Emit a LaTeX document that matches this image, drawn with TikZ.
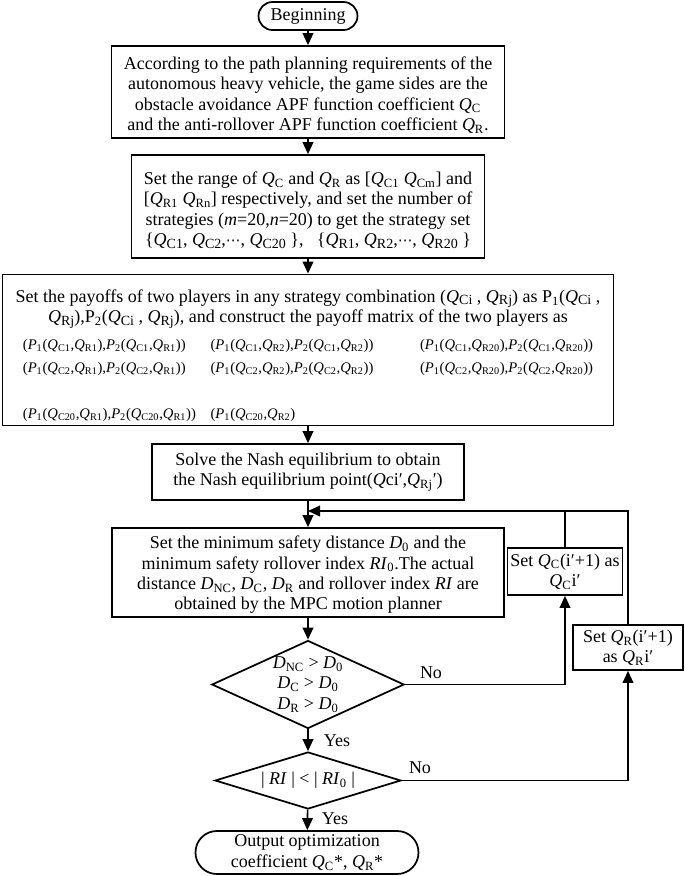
\documentclass[tikz,border=0pt]{standalone}
\usepackage{fontspec}
\setmainfont{Liberation Serif}
\newfontfamily\dotsfont{DejaVu Sans}
\usepackage{tikz}
\usetikzlibrary{arrows.meta,shapes.geometric}

\newcommand{\sq}[2]{\textit{#1}\textsubscript{#2}}
\newcommand{\bsq}[2]{\textit{#1}\raisebox{-0.3ex}{\fontsize{10.5}{10.5}\selectfont #2}}
\newcommand{\pay}[2]{(\sq{P}{1}(\sq{Q}{#1},\sq{Q}{#2}),\sq{P}{2}(\sq{Q}{#1},\sq{Q}{#2}))}
\newcommand{\mdots}{{\dotsfont\fontsize{11}{11}\selectfont ⋯}}
\newcommand{\bodyfont}{\fontsize{13.5}{15.25}\selectfont}

\begin{document}
\begin{tikzpicture}[x=0.75pt,y=0.75pt,yscale=-1,xscale=1,
  box/.style={draw, line width=1.3pt, align=center, inner sep=0pt, font=\bodyfont},
  pill/.style={box, rounded corners=#1},
  decision/.style={diamond, draw, line width=1.3pt, align=center, inner sep=0pt, font=\bodyfont},
  arr/.style={line width=1.2pt, -{Triangle[length=9pt,width=8pt]}},
  link/.style={line width=1.2pt},
  tag/.style={inner sep=0pt, font=\bodyfont}]
        \useasboundingbox (0,0) rectangle (685,876);

        % main column
        \node (begin) [pill=10.5pt, minimum width=74.25pt, minimum height=21pt] at (308,16) {Beginning};
        \node (sides) [box, minimum width=294.75pt, minimum height=69pt] at (308,92) {\rule{0pt}{14pt}According to the path planning requirements of the\\ autonomous heavy vehicle, the game sides are the\\ obstacle avoidance APF function coefficient \sq{Q}{C}\\ and the anti-rollover APF function coefficient \sq{Q}{R}.};
        \node (range) [box, minimum width=264.75pt, minimum height=77.25pt] at (308,206.5) {\rule{0pt}{15pt}Set the range of \sq{Q}{C} and \sq{Q}{R} as {[}\sq{Q}{C1} \sq{Q}{Cm}] and\\ {[}\sq{Q}{R1} \sq{Q}{Rn}] respectively, and set the number of\\ strategies (\textit{m}=20,\textit{n}=20) to get the strategy set\\ \{\bsq{Q}{C1}, \bsq{Q}{C2},\mdots, \bsq{Q}{C20} \},\ \ \ \{\bsq{Q}{R1}, \bsq{Q}{R2},\mdots, \bsq{Q}{R20} \}};
        \node (payoff) [box, minimum width=458.25pt, minimum height=112.5pt] at (308,350) {\rule{0pt}{21pt}Set the payoffs of two players in any strategy combination (\bsq{Q}{Ci} , \bsq{Q}{Rj}) as P\textsubscript{1}(\bsq{Q}{Ci} ,\\ \bsq{Q}{Rj}),P\textsubscript{2}(\bsq{Q}{Ci} , \bsq{Q}{Rj}), and construct the payoff matrix of the two players as\\[3pt]
          {\fontsize{11}{17.25}\selectfont\begin{tabular}[t]{@{}l@{\hspace{11pt}}l@{\hspace{35pt}}l@{}}
            \pay{C1}{R1} & \pay{C1}{R2} & \pay{C1}{R20}\\
            \pay{C2}{R1} & \pay{C2}{R2} & \pay{C2}{R20}\\
            & & \\
            \pay{C20}{R1} & (\sq{P}{1}(\sq{Q}{C20},\sq{Q}{R2}) &
          \end{tabular}}};
        \node (nash) [box, minimum width=234pt, minimum height=42pt] at (308,472) {Solve the Nash equilibrium to obtain\\ the Nash equilibrium point(\textit{Q}ci′,\sq{Q}{Rj}′)};
        \node (mpc) [box, minimum width=294pt, minimum height=66.75pt] at (308,572.5) {\rule{0pt}{13pt}Set the minimum safety distance \sq{D}{0} and the\\ minimum safety rollover index \sq{\textit{RI}}{0}.The actual\\ distance \sq{D}{NC}, \sq{D}{C}, \sq{D}{R} and rollover index \textit{RI} are\\ obtained by the MPC motion planner};
        \node (dist) [decision, aspect=2.2, minimum width=142.5pt, minimum height=66pt] at (308,684.5) {\sq{D}{NC} > \sq{D}{0}\\ \sq{D}{C} > \sq{D}{0}\\ \sq{D}{R} > \sq{D}{0}};
        \node (roll) [decision, aspect=4, minimum width=139.5pt, minimum height=42.75pt] at (308,780.5) {| \textit{RI} | < | \sq{\textit{RI}}{0} |};
        \node (out) [pill=16pt, minimum width=167.25pt, minimum height=32.25pt] at (307,852.5) {Output optimization\\ coefficient \sq{Q}{C}*, \sq{Q}{R}*};

        % update boxes
        \node (setqc) [box, minimum width=86.25pt, minimum height=35.25pt] at (565,571.5) {Set \sq{Q}{C}(i′+1) as\\ \sq{Q}{C}i′};
        \node (setqr) [box, minimum width=82.5pt, minimum height=33.75pt] at (628,647.5) {Set \sq{Q}{R}(i′+1)\\ as \sq{Q}{R}i′};
        \coordinate (loop) at (308,511);

        \node (no1) [tag] at (431,673) {No};
        \node (no2) [tag] at (420,768) {No};
        \node (yes1) [tag] at (337,741) {Yes};
        \node (yes2) [tag] at (335,819) {Yes};

        % connectors
        \draw [arr] (begin) -- (sides);
        \draw [arr] (sides) -- (range);
        \draw [arr] (range) -- (payoff);
        \draw [arr] (payoff) -- (nash);
        \draw [arr] (nash) -- (mpc);
        \draw [arr] (mpc) -- (dist);
        \draw [arr] (dist) -- (roll);
        \draw [arr] (roll) -- (out);
        \draw [arr] (dist.east) -| (setqc.south);
        \draw [arr] (roll.east) -| (setqr.south);
        \draw [link] (setqc.north) -- (setqc.north |- loop);
        \draw [arr] (setqr.north) |- (loop);

\end{tikzpicture}
\end{document}
